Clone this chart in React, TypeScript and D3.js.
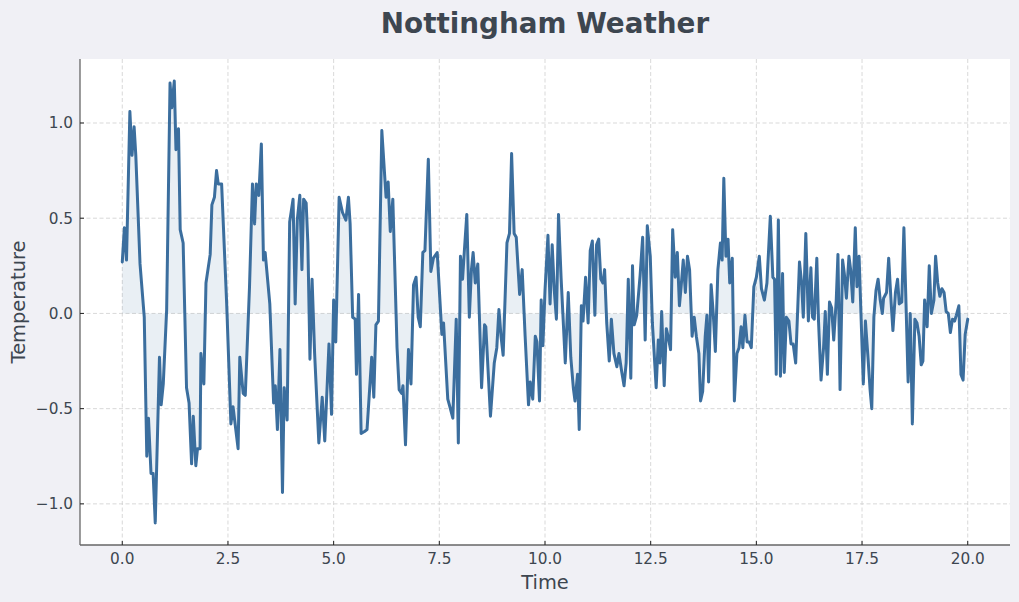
import React, { useEffect, useRef } from 'react';
import * as d3 from 'd3';

const title = 'Nottingham Weather';
const xLabel = 'Time';
const yLabel = 'Temperature';

const time = [
  0, 0.05, 0.1, 0.18, 0.23, 0.28, 0.32, 0.42, 0.52, 0.58, 0.62, 0.68, 0.73, 0.78, 0.88, 0.92, 0.97, 1.05,
  1.13, 1.17, 1.23, 1.27, 1.33, 1.37, 1.44, 1.52, 1.58, 1.64, 1.68, 1.74, 1.78, 1.84, 1.86, 1.93, 1.98,
  2.08, 2.12, 2.18, 2.23, 2.27, 2.35, 2.47, 2.57, 2.62, 2.74, 2.78, 2.86, 2.91, 3.01, 3.08, 3.13, 3.17,
  3.23, 3.29, 3.34, 3.38, 3.49, 3.58, 3.62, 3.67, 3.73, 3.79, 3.83, 3.9, 3.96, 4.04, 4.09, 4.14, 4.2,
  4.25, 4.29, 4.35, 4.39, 4.44, 4.49, 4.55, 4.65, 4.73, 4.79, 4.89, 4.95, 5.0, 5.05, 5.13, 5.21, 5.29,
  5.35, 5.39, 5.45, 5.51, 5.54, 5.59, 5.65, 5.73, 5.79, 5.9, 5.95, 6.0, 6.06, 6.14, 6.24, 6.29, 6.34,
  6.4, 6.5, 6.55, 6.61, 6.64, 6.7, 6.77, 6.83, 6.89, 6.95, 7.0, 7.05, 7.11, 7.16, 7.24, 7.3, 7.36, 7.45,
  7.56, 7.6, 7.7, 7.75, 7.82, 7.9, 7.95, 8.0, 8.05, 8.09, 8.15, 8.21, 8.26, 8.3, 8.35, 8.41, 8.5, 8.57,
  8.6, 8.71, 8.8, 8.86, 8.91, 8.96, 9.01, 9.1, 9.16, 9.21, 9.27, 9.32, 9.4, 9.46, 9.53, 9.61, 9.65,
  9.71, 9.77, 9.81, 9.87, 9.91, 9.95, 10.0, 10.07, 10.12, 10.17, 10.22, 10.27, 10.32, 10.38, 10.48,
  10.55, 10.61, 10.67, 10.71, 10.77, 10.81, 10.86, 10.9, 10.96, 11.02, 11.07, 11.12, 11.18, 11.22,
  11.27, 11.32, 11.37, 11.41, 11.46, 11.52, 11.57, 11.63, 11.7, 11.75, 11.81, 11.87, 11.92, 11.97,
  12.03, 12.07, 12.11, 12.17, 12.25, 12.31, 12.37, 12.42, 12.49, 12.54, 12.63, 12.68, 12.72, 12.76,
  12.82, 12.87, 12.92, 12.97, 13.02, 13.08, 13.13, 13.18, 13.22, 13.27, 13.32, 13.37, 13.42, 13.48,
  13.53, 13.58, 13.64, 13.68, 13.73, 13.79, 13.83, 13.87, 13.93, 13.98, 14.03, 14.09, 14.15, 14.19,
  14.23, 14.28, 14.33, 14.37, 14.43, 14.48, 14.54, 14.59, 14.64, 14.68, 14.73, 14.78, 14.83, 14.88,
  14.94, 15.0, 15.07, 15.12, 15.19, 15.25, 15.33, 15.39, 15.43, 15.47, 15.52, 15.57, 15.62, 15.66,
  15.71, 15.77, 15.82, 15.87, 15.93, 16.02, 16.07, 16.11, 16.17, 16.23, 16.29, 16.33, 16.37, 16.43,
  16.47, 16.53, 16.59, 16.63, 16.68, 16.73, 16.78, 16.83, 16.89, 16.93, 16.98, 17.04, 17.08, 17.13,
  17.19, 17.23, 17.28, 17.34, 17.38, 17.43, 17.48, 17.53, 17.58, 17.64, 17.69, 17.73, 17.78, 17.83,
  17.88, 17.93, 17.98, 18.01, 18.08, 18.13, 18.19, 18.23, 18.29, 18.34, 18.38, 18.44, 18.49, 18.54,
  18.59, 18.64, 18.69, 18.75, 18.8, 18.85, 18.9, 18.94, 18.98, 19.04, 19.09, 19.14, 19.2, 19.24, 19.29,
  19.34, 19.39, 19.44, 19.49, 19.54, 19.59, 19.64, 19.69, 19.73, 19.79, 19.84, 19.89, 19.94, 20.0,
];

const temperature = [
  0.27, 0.45, 0.28, 1.06, 0.83, 0.98, 0.83, 0.26, -0.02, -0.75, -0.55, -0.84, -0.84, -1.1, -0.23, -0.48, -0.37, 0.02,
  1.21, 1.08, 1.22, 0.86, 0.97, 0.44, 0.37, -0.39, -0.47, -0.79, -0.54, -0.8, -0.71, -0.71, -0.21, -0.37, 0.16,
  0.31, 0.57, 0.61, 0.75, 0.68, 0.68, 0.05, -0.58, -0.49, -0.71, -0.23, -0.42, -0.43, 0.14, 0.68, 0.47, 0.68,
  0.62, 0.89, 0.28, 0.32, 0.05, -0.47, -0.38, -0.61, -0.19, -0.94, -0.39, -0.56, 0.48, 0.6, 0.05, 0.49, 0.62,
  0.23, 0.6, 0.58, 0.37, -0.24, 0.18, -0.21, -0.68, -0.44, -0.67, -0.16, -0.53, 0.07, -0.15, 0.61, 0.53, 0.49,
  0.61, 0.47, -0.02, -0.03, -0.32, 0.1, -0.63, -0.62, -0.61, -0.23, -0.44, -0.06, -0.04, 0.96, 0.61, 0.69, 0.43,
  0.6, -0.18, -0.4, -0.42, -0.38, -0.69, -0.19, -0.37, 0.15, 0.19, -0.02, -0.07, 0.32, 0.33, 0.81, 0.22, 0.29, 0.32,
  -0.11, -0.05, -0.45, -0.49, -0.55, -0.03, -0.68, 0.3, 0.18, 0.32, 0.52, -0.02, 0.23, 0.32, 0.16, 0.26, -0.39, -0.06,
  -0.07, -0.54, -0.26, -0.18, 0.02, -0.12, -0.22, 0.37, 0.42, 0.84, 0.42, 0.4, 0.1, 0.23, -0.12, -0.48, -0.36,
  -0.45, -0.12, -0.15, -0.46, 0.07, -0.17, 0.12, 0.41, 0.05, 0.36, 0.12, -0.03, 0.52, 0.19, -0.26,
  0.11, -0.23, -0.39, -0.46, -0.32, -0.61, 0.04, -0.04, 0.19, -0.05, 0.33, 0.38, -0.01, 0.36,
  0.39, 0.18, 0.16, 0.23, -0.05, -0.25, -0.03, -0.21, -0.28, -0.21, -0.3, -0.38, -0.26, 0.18,
  -0.34, 0.25, -0.06, -0.01, 0.2, 0.4, -0.14, 0.46, 0.3, -0.05, -0.39, -0.14, -0.26, 0.01,
  -0.38, -0.08, -0.13, -0.19, 0.44, 0.19, 0.32, 0.04, 0.14, 0.28, 0.11, 0.3, 0.23, -0.12,
  -0.02, -0.12, -0.21, -0.46, -0.41, -0.12, -0.01, -0.36, 0.15, 0.0, -0.2, 0.23, 0.37, 0.28,
  0.71, 0.3, 0.39, 0.16, 0.29, -0.46, -0.21, -0.18, -0.07, -0.18, -0.01, -0.15, -0.15, -0.18,
  0.14, 0.19, 0.3, 0.13, 0.07, 0.16, 0.51, 0.19, 0.18, -0.32, 0.49, -0.33, 0.21, -0.31,
  -0.02, -0.04, -0.16, -0.16, -0.26, 0.27, 0.16, -0.02, 0.42, -0.04, 0.24, -0.02, -0.03, 0.29,
  -0.04, -0.35, -0.18, 0.01, -0.32, 0.06, 0.03, -0.14, 0.07, 0.31, -0.4, 0.28, 0.21, 0.08,
  0.3, 0.23, 0.06, 0.45, 0.14, 0.3, -0.04, -0.37, -0.04, -0.23, -0.4, -0.5, -0.02, 0.12,
  0.18, 0.07, 0.0, 0.08, 0.11, 0.29, 0.05, -0.09, 0.11, 0.18, 0.05, 0.06, 0.45, 0.05,
  -0.36, 0.0, -0.58, -0.03, -0.05, -0.12, -0.27, -0.25, 0.07, -0.07, 0.25, 0.0, 0.07, 0.3, 0.16,
  0.09, 0.13, 0.11, 0.01, 0.0, -0.1, -0.03, -0.04, -0.01, 0.04, -0.32, -0.35, -0.11, -0.03,
];

const xTicks = [0, 2.5, 5, 7.5, 10, 12.5, 15, 17.5, 20];
const yTicks = [-1, -0.5, 0, 0.5, 1];

const W = 1019;
const H = 602;
const margin = { top: 59, right: 9, bottom: 57, left: 80 };
const lineColor = '#3b6e9e';
const textColor = '#3d4650';
const font = '"DejaVu Sans", sans-serif';

export default function App() {
  const ref = useRef<SVGSVGElement>(null);

  useEffect(() => {
    const svg = d3.select(ref.current);
    svg.selectAll('*').remove();

    const x0 = margin.left, x1 = W - margin.right;
    const y0 = margin.top, y1 = H - margin.bottom;

    const pad = (a: number, b: number) => [a - (b - a) * 0.05, b + (b - a) * 0.05];
    const [tMin, tMax] = d3.extent(time) as [number, number];
    const [vMin, vMax] = d3.extent(temperature) as [number, number];

    const x = d3.scaleLinear().domain(pad(tMin, tMax)).range([x0, x1]);
    const y = d3.scaleLinear().domain(pad(vMin, vMax)).range([y1, y0]);

    svg.append('rect').attr('width', W).attr('height', H).attr('fill', '#f0f0f5');
    svg.append('rect')
      .attr('x', x0).attr('y', y0)
      .attr('width', x1 - x0).attr('height', y1 - y0)
      .attr('fill', '#ffffff');

    // grid
    const grid = svg.append('g')
      .attr('stroke', '#cfcfcf')
      .attr('stroke-width', 0.8)
      .attr('stroke-dasharray', '4,2.5');
    xTicks.forEach((t) => {
      grid.append('line').attr('x1', x(t)).attr('x2', x(t)).attr('y1', y0).attr('y2', y1);
    });
    yTicks.forEach((v) => {
      grid.append('line').attr('x1', x0).attr('x2', x1).attr('y1', y(v)).attr('y2', y(v));
    });

    const pts = time.map((t, i) => [t, temperature[i]] as [number, number]);

    const area = d3.area<[number, number]>()
      .x((d) => x(d[0]))
      .y0(y(0))
      .y1((d) => y(d[1]));
    svg.append('path')
      .attr('d', area(pts))
      .attr('fill', lineColor)
      .attr('fill-opacity', 0.11);

    const line = d3.line<[number, number]>()
      .x((d) => x(d[0]))
      .y((d) => y(d[1]));
    svg.append('path')
      .attr('d', line(pts))
      .attr('fill', 'none')
      .attr('stroke', lineColor)
      .attr('stroke-width', 3)
      .attr('stroke-linejoin', 'round')
      .attr('stroke-linecap', 'round');

    // spines
    svg.append('line')
      .attr('x1', x0).attr('x2', x0).attr('y1', y0).attr('y2', y1)
      .attr('stroke', '#666').attr('stroke-width', 1.3);
    svg.append('line')
      .attr('x1', x0).attr('x2', x1).attr('y1', y1).attr('y2', y1)
      .attr('stroke', '#666').attr('stroke-width', 1.3);

    const fmt = (v: number) => d3.format('.1f')(v).replace('-', '\u2212');

    // x ticks (inward)
    xTicks.forEach((t) => {
      svg.append('line')
        .attr('x1', x(t)).attr('x2', x(t)).attr('y1', y1).attr('y2', y1 - 4)
        .attr('stroke', '#222').attr('stroke-width', 1);
      svg.append('text')
        .attr('x', x(t)).attr('y', y1 + 19)
        .attr('text-anchor', 'middle')
        .style('font-family', font).style('font-size', '15.3px')
        .attr('fill', textColor)
        .text(fmt(t));
    });

    // y ticks (inward)
    yTicks.forEach((v) => {
      svg.append('line')
        .attr('x1', x0).attr('x2', x0 + 4).attr('y1', y(v)).attr('y2', y(v))
        .attr('stroke', '#222').attr('stroke-width', 1);
      svg.append('text')
        .attr('x', x0 - 7).attr('y', y(v))
        .attr('dy', '0.36em')
        .attr('text-anchor', 'end')
        .style('font-family', font).style('font-size', '15.3px')
        .attr('fill', textColor)
        .text(fmt(v));
    });

    svg.append('text')
      .attr('x', (x0 + x1) / 2).attr('y', 589)
      .attr('text-anchor', 'middle')
      .style('font-family', font).style('font-size', '19.4px')
      .attr('fill', textColor)
      .text(xLabel);

    svg.append('text')
      .attr('transform', `translate(25, ${(y0 + y1) / 2}) rotate(-90)`)
      .attr('text-anchor', 'middle')
      .style('font-family', font).style('font-size', '19.4px')
      .attr('fill', textColor)
      .text(yLabel);

    svg.append('text')
      .attr('x', (x0 + x1) / 2).attr('y', 33)
      .attr('text-anchor', 'middle')
      .style('font-family', font).style('font-size', '27.8px')
      .style('font-weight', 'bold')
      .attr('fill', textColor)
      .text(title);
  }, []);

  return (
    <svg
      ref={ref}
      width={W}
      height={H}
      style={{ position: 'absolute', left: 0, top: 0, display: 'block' }}
    />
  );
}
